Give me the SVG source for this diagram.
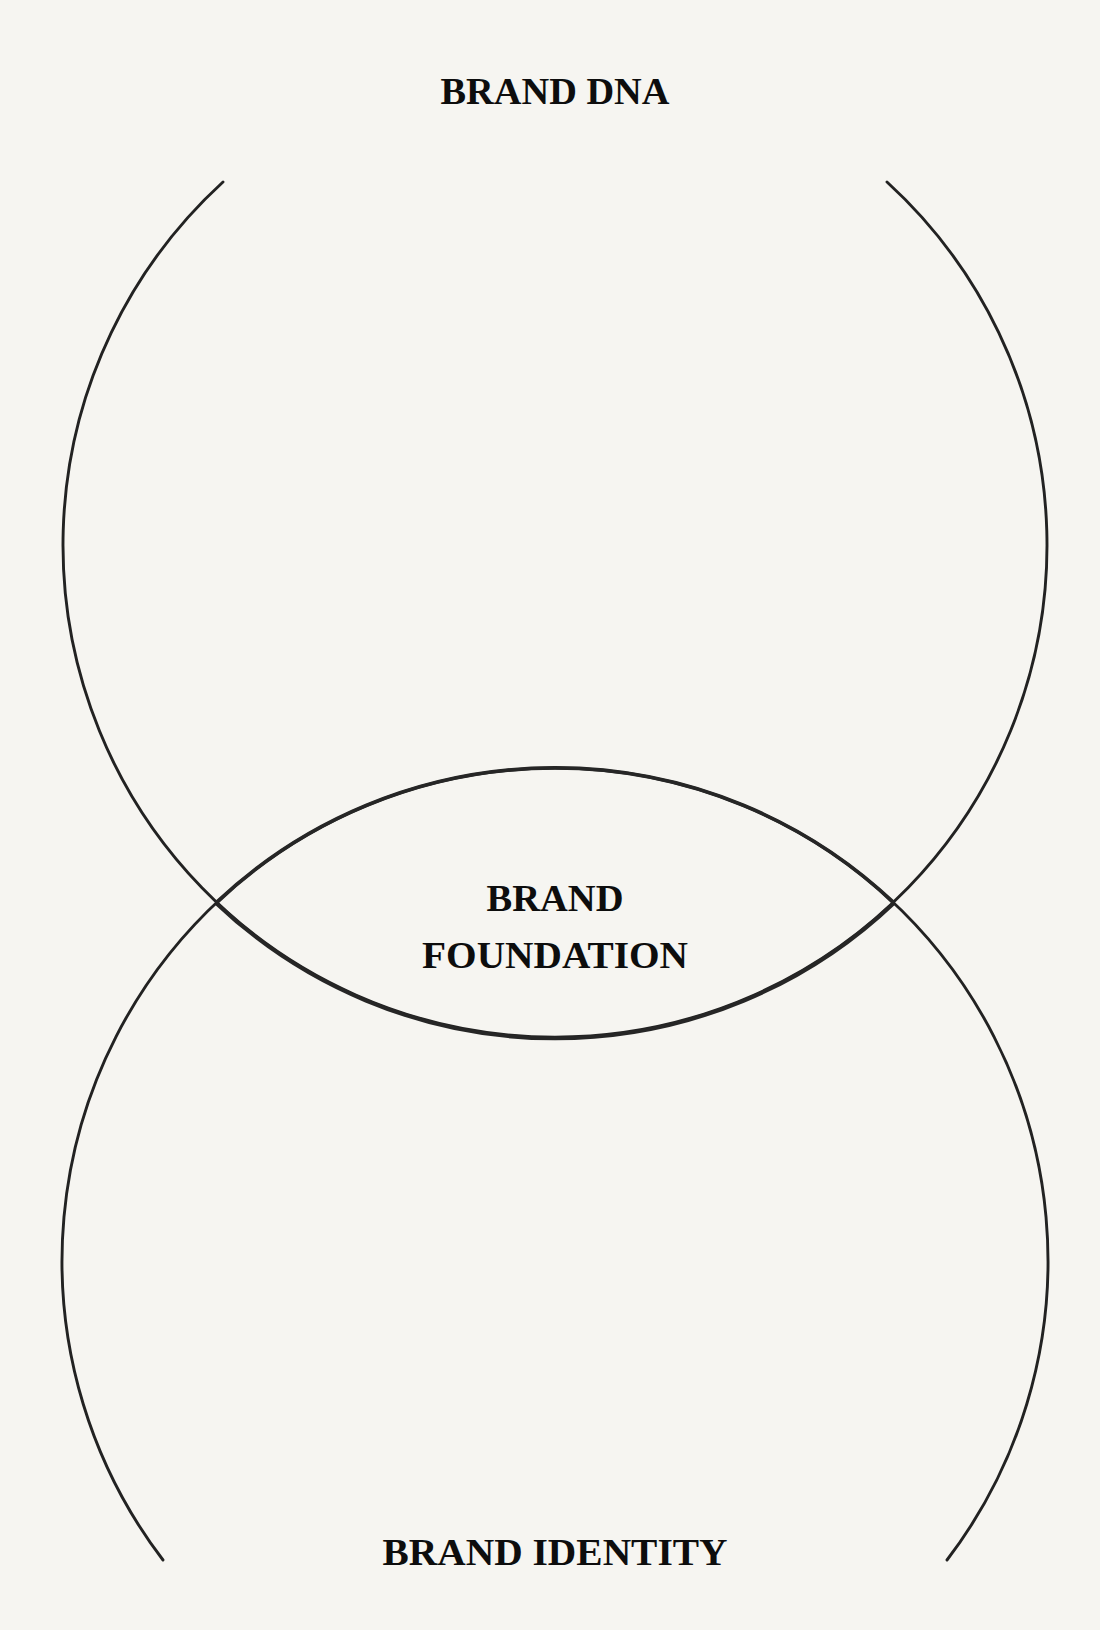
<svg xmlns="http://www.w3.org/2000/svg" width="1100" height="1630" viewBox="0 0 1100 1630">
  <style>
    .arc { fill: none; stroke: #222222; stroke-width: 2.9; stroke-linecap: round; }
    .lens { fill: none; stroke: #262626; stroke-width: 3.8; }
    .label { font-family: "Liberation Serif", "Times New Roman", serif; font-weight: bold; font-size: 38px; fill: #0d0d0d; text-anchor: middle; }
  </style>
  <rect x="0" y="0" width="1100" height="1630" fill="#f6f5f1"/>
  <g id="connectors">
    <g id="circle-dna">
      <path class="arc" d="M223,182 A492,492 0 1 0 887,182"/>
      <path class="lens" d="M216,903 A492,492 0 0 0 894,903"/>
    </g>
    <g id="circle-identity">
      <path class="arc" d="M163,1560 A493,493 0 1 1 947,1560"/>
      <path class="lens" d="M216,903 A493,493 0 0 1 894,903"/>
    </g>
  </g>
  <g id="node-brand-dna">
    <text class="label" x="555" y="104" textLength="229" lengthAdjust="spacingAndGlyphs">BRAND DNA</text>
  </g>
  <g id="node-brand-foundation">
    <text class="label" x="555" y="911" textLength="137" lengthAdjust="spacingAndGlyphs">BRAND</text>
    <text class="label" x="555" y="968" textLength="266" lengthAdjust="spacingAndGlyphs">FOUNDATION</text>
  </g>
  <g id="node-brand-identity">
    <text class="label" x="555" y="1565" textLength="345" lengthAdjust="spacingAndGlyphs">BRAND IDENTITY</text>
  </g>
</svg>
